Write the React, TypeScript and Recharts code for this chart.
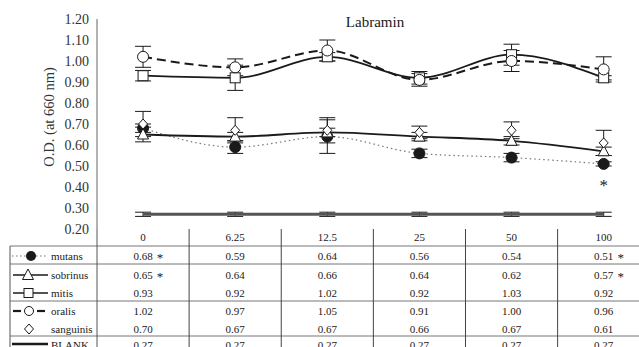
import React from 'react';
import { ComposedChart, Line, XAxis, YAxis, ErrorBar, LabelList } from 'recharts';

const doses = ['0', '6.25', '12.5', '25', '50', '100'];
const mutans = [0.68, 0.59, 0.64, 0.56, 0.54, 0.51];
const mutansErr = [0.02, 0.03, 0.08, 0.02, 0.02, 0.01];
const sobrinus = [0.65, 0.64, 0.66, 0.64, 0.62, 0.57];
const sobrinusErr = [0.035, 0.02, 0.02, 0.02, 0.02, 0.02];
const mitis = [0.93, 0.92, 1.02, 0.92, 1.03, 0.92];
const mitisErr = [0.025, 0.06, 0.02, 0.03, 0.05, 0.01];
const oralis = [1.02, 0.97, 1.05, 0.91, 1.0, 0.96];
const oralisErr = [0.05, 0.04, 0.05, 0.03, 0.05, 0.06];
const sanguinis = [0.7, 0.67, 0.67, 0.66, 0.67, 0.61];
const sanguinisErr = [0.06, 0.06, 0.06, 0.03, 0.04, 0.06];
const blank = [0.27, 0.27, 0.27, 0.27, 0.27, 0.27];
const blankErr = [0.01, 0.01, 0.01, 0.01, 0.01, 0.01];
const yTicks = [0.2, 0.3, 0.4, 0.5, 0.6, 0.7, 0.8, 0.9, 1.0, 1.1, 1.2];

// significance marks (*) per row
const mutansStar = [true, false, false, false, false, true];
const sobrinusStar = [true, false, false, false, false, true];

const data = doses.map((d, i) => ({
  i,
  mutans: mutans[i], mutansErr: mutansErr[i],
  sobrinus: sobrinus[i], sobrinusErr: sobrinusErr[i],
  mitis: mitis[i], mitisErr: mitisErr[i],
  oralis: oralis[i], oralisErr: oralisErr[i],
  sanguinis: sanguinis[i], sanguinisErr: sanguinisErr[i],
  blank: blank[i], blankErr: blankErr[i],
}));

const FONT = 'Liberation Serif, DejaVu Serif, serif';
const INK = '#1a1a1a';
const ff = { fontFamily: FONT };

const PL = 97; // plot left
const PR = 635; // plot right
const XD: [number, number] = [-0.5, 5.34];
const xPos = (v: number) => PL + ((v - XD[0]) / (XD[1] - XD[0])) * (PR - PL);

const Tri = ({ cx, cy }: any) => (
  <path d={`M${cx},${cy - 6} L${cx + 5.5},${cy + 4.5} L${cx - 5.5},${cy + 4.5} Z`} fill="#fff" stroke={INK} strokeWidth={1} />
);
const Sq = ({ cx, cy }: any) => (
  <rect x={cx - 5} y={cy - 5} width={10} height={10} fill="#fff" stroke={INK} strokeWidth={1} />
);
const Circ = ({ cx, cy, filled }: any) => (
  <circle cx={cx} cy={cy} r={5.5} fill={filled ? INK : '#fff'} stroke={INK} strokeWidth={1} />
);
const Dia = ({ cx, cy }: any) => (
  <path d={`M${cx},${cy - 5} L${cx + 4.5},${cy} L${cx},${cy + 5} L${cx - 4.5},${cy} Z`} fill="#fff" stroke={INK} strokeWidth={1} />
);

const rows = [
  { name: 'mutans', vals: mutans, star: mutansStar, y: 256 },
  { name: 'sobrinus', vals: sobrinus, star: sobrinusStar, y: 275 },
  { name: 'mitis', vals: mitis, star: null, y: 293 },
  { name: 'oralis', vals: oralis, star: null, y: 311 },
  { name: 'sanguinis', vals: sanguinis, star: null, y: 329 },
  { name: 'BLANK', vals: blank, star: null, y: 345 },
];

const legendSymbol = (name: string, y: number) => {
  switch (name) {
    case 'mutans':
      return (
        <g>
          <line x1={12} x2={48} y1={y} y2={y} stroke="#777" strokeWidth={1} strokeDasharray="1.5 2.5" />
          <circle cx={31} cy={y} r={5} fill={INK} />
        </g>
      );
    case 'sobrinus':
      return (
        <g>
          <line x1={13} x2={48} y1={y} y2={y} stroke={INK} strokeWidth={1.3} />
          <Tri cx={28} cy={y} />
        </g>
      );
    case 'mitis':
      return (
        <g>
          <line x1={13} x2={48} y1={y} y2={y} stroke={INK} strokeWidth={1.3} />
          <rect x={24} y={y - 4.5} width={9} height={9} fill="#fff" stroke={INK} />
        </g>
      );
    case 'oralis':
      return (
        <g>
          <line x1={13} x2={21} y1={y} y2={y} stroke={INK} strokeWidth={2.2} />
          <circle cx={29} cy={y} r={4.5} fill="#fff" stroke={INK} />
          <line x1={37} x2={45} y1={y} y2={y} stroke={INK} strokeWidth={2.2} />
        </g>
      );
    case 'sanguinis':
      return <Dia cx={29} cy={y} />;
    default:
      return <line x1={12} x2={48} y1={y - 1} y2={y - 1} stroke={INK} strokeWidth={2.5} />;
  }
};

const Table = () => {
  const hLines = [246, 264, 301, 336];
  return (
    <svg width={639} height={347} style={{ position: 'absolute', left: 0, top: 0, pointerEvents: 'none', fontFamily: FONT }}>
      <text x={375} y={27} textAnchor="middle" fontSize={15} fill={INK} style={ff}>Labramin</text>
      <text transform="translate(54,117) rotate(-90)" textAnchor="middle" fontSize={14.5} fill="#333" style={ff}>O.D. (at 660 nm)</text>
      {hLines.map((y) => (
        <line key={y} x1={10} x2={639} y1={y} y2={y} stroke="#777" strokeWidth={1} />
      ))}
      <line x1={10} x2={10} y1={246} y2={347} stroke="#555" />
      <line x1={PL} x2={PL} y1={229} y2={347} stroke="#555" />
      {doses.slice(1).map((_, i) => (
        <line key={i} x1={xPos(i + 0.5)} x2={xPos(i + 0.5)} y1={229} y2={347} stroke="#444" strokeWidth={1} />
      ))}
      {rows.map((r) => (
        <g key={r.name}>
          {legendSymbol(r.name, r.y)}
          <text x={51} y={r.y + 4} fontSize={11} fill={INK} style={ff}>{r.name}</text>
          {r.vals.map((v, i) => (
            <g key={i}>
              <text x={xPos(i)} y={r.y + 4} textAnchor="middle" fontSize={11} fill={INK} style={ff}>{v.toFixed(2)}</text>
              {r.star && r.star[i] ? (
                <text x={xPos(i) + 17} y={r.y + 6} textAnchor="middle" fontSize={13} fill={INK} style={ff}>*</text>
              ) : null}
            </g>
          ))}
        </g>
      ))}
    </svg>
  );
};

const XTick = ({ x, y, payload }: any) => (
  <text x={x} y={y + 4} textAnchor="middle" fontSize={11} fill={INK} style={ff}>
    {doses[payload.value]}
  </text>
);

const YTick = ({ x, y, payload }: any) => (
  <text x={x} y={y + 5} textAnchor="end" fontSize={14} fill="#333" style={ff}>
    {payload.value.toFixed(2)}
  </text>
);

const StarLabel = ({ x, y, index }: any) =>
  mutansStar[index] && index === 5 ? (
    <text x={x} y={y + 27} textAnchor="middle" fontSize={17} fill={INK} style={ff}>*</text>
  ) : null;

export default function App() {
  const eb = { width: 8, stroke: INK, strokeWidth: 1, direction: 'y' as const, isAnimationActive: false };
  return (
    <div style={{ position: 'absolute', left: 0, top: 0, width: 639, height: 347, background: '#fff' }}>
      <ComposedChart width={639} height={347} data={data} margin={{ top: 19, right: 4, bottom: 0, left: 0 }}>
        <XAxis dataKey="i" type="number" domain={XD} ticks={[0, 1, 2, 3, 4, 5]} axisLine={false} tickLine={false}
          height={118} tick={<XTick />} interval={0} allowDataOverflow />
        <YAxis domain={[0.2, 1.2]} ticks={yTicks} width={97} tickLine={false} tickSize={0} tickMargin={8}
          interval={0} axisLine={{ stroke: '#999', strokeWidth: 1.5 }} tick={<YTick />} allowDataOverflow />
        <Line dataKey="blank" stroke="#555" strokeWidth={3} dot={false} isAnimationActive={false}>
          <ErrorBar dataKey="blankErr" {...eb} />
        </Line>
        <Line dataKey="mutans" type="monotone" stroke="#777" strokeWidth={1.2} strokeDasharray="1.5 3"
          dot={<Circ filled />} isAnimationActive={false}>
          <ErrorBar dataKey="mutansErr" {...eb} />
          <LabelList dataKey="mutans" content={<StarLabel />} />
        </Line>
        <Line dataKey="sobrinus" type="monotone" stroke={INK} strokeWidth={1.8} dot={<Tri />} isAnimationActive={false}>
          <ErrorBar dataKey="sobrinusErr" {...eb} />
        </Line>
        <Line dataKey="sanguinis" stroke="none" dot={<Dia />} isAnimationActive={false}>
          <ErrorBar dataKey="sanguinisErr" {...eb} />
        </Line>
        <Line dataKey="mitis" type="monotone" stroke={INK} strokeWidth={1.8} dot={<Sq />} isAnimationActive={false}>
          <ErrorBar dataKey="mitisErr" {...eb} />
        </Line>
        <Line dataKey="oralis" type="monotone" stroke={INK} strokeWidth={2} strokeDasharray="9 5"
          dot={<Circ />} isAnimationActive={false}>
          <ErrorBar dataKey="oralisErr" {...eb} />
        </Line>
      </ComposedChart>
      <Table />
    </div>
  );
}
